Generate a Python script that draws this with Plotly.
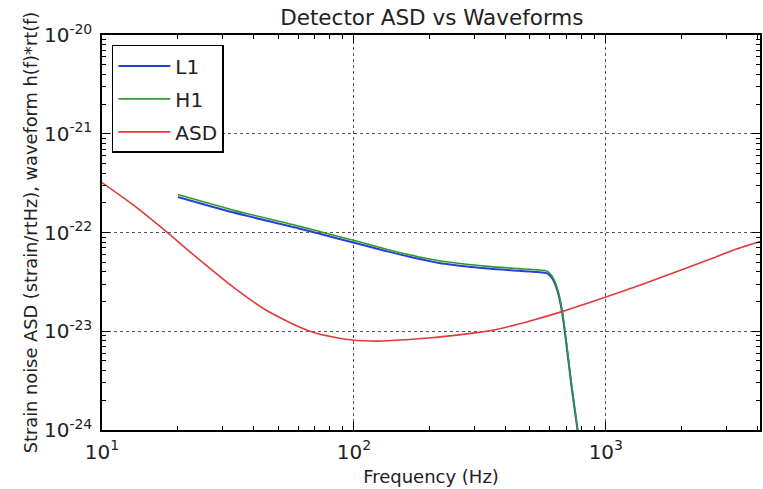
import plotly.graph_objects as go

# ---- data ----
asd_freq = [10, 13.3, 18, 24.4, 33, 44.7, 60.4, 70.3, 81.7, 98, 125, 160, 197, 266,
            372, 500, 670, 1000, 1400, 1905, 2600, 3300, 4096]
asd_vals = [3.2e-22, 1.9e-22, 1.02e-22, 5.27e-23, 2.83e-23, 1.64e-23, 1.11e-23, 9.6e-24,
            8.8e-24, 8.15e-24, 7.95e-24, 8.2e-24, 8.55e-24, 9.25e-24, 1.05e-23, 1.27e-23,
            1.58e-23, 2.22e-23, 3.0e-23, 4.0e-23, 5.4e-23, 6.8e-23, 8.1e-23]

wf_freq = [20, 33, 60.4, 86.9, 104, 137, 215, 339, 450, 535, 585, 612, 641, 670,
           702, 734, 769, 800]
l1_vals = [2.29e-22, 1.60e-22, 1.10e-22, 8.65e-23, 7.7e-23, 6.4e-23, 4.95e-23, 4.32e-23,
           4.1e-23, 3.98e-23, 3.86e-23, 3.44e-23, 2.62e-23, 1.58e-23, 6.45e-24, 2.54e-24,
           1.08e-24, 4.5e-25]
h1_vals = [2.42e-22, 1.69e-22, 1.16e-22, 9.1e-23, 8.1e-23, 6.7e-23, 5.2e-23, 4.54e-23,
           4.31e-23, 4.18e-23, 4.05e-23, 3.6e-23, 2.75e-23, 1.66e-23, 6.8e-24, 2.65e-24,
           1.12e-24, 4.7e-25]

x_tickvals = [10, 100, 1000]
x_ticktext = ["10<sup>1</sup>", "10<sup>2</sup>", "10<sup>3</sup>"]
y_tickvals = [1e-24, 1e-23, 1e-22, 1e-21, 1e-20]
y_ticktext = ["10<sup>-24</sup>", "10<sup>-23</sup>", "10<sup>-22</sup>",
              "10<sup>-21</sup>", "10<sup>-20</sup>"]

x_minor = [m * 10 ** e for e in (1, 2, 3) for m in range(2, 10) if m * 10 ** e < 4096]
y_minor = [m * 10.0 ** e for e in (-24, -23, -22, -21) for m in range(2, 10)]

FONT = "DejaVu Sans"
TXT = "#222222"
TICKFONT = dict(family=FONT, size=20, color=TXT)

fig = go.Figure()
fig.add_trace(go.Scatter(x=wf_freq, y=l1_vals, mode="lines", name="L1",
                         line=dict(color="#2b3fd6", width=2, shape="spline", smoothing=0.6),
                         legendgroup="a"))
fig.add_trace(go.Scatter(x=wf_freq, y=h1_vals, mode="lines", name="H1",
                         line=dict(color="#2e9a2e", width=1.6, shape="spline", smoothing=0.6),
                         legendgroup="b"))
fig.add_trace(go.Scatter(x=asd_freq, y=asd_vals, mode="lines", name="ASD",
                         line=dict(color="#e03a3a", width=1.6, shape="spline", smoothing=0.6),
                         legendgroup="c"))

axis_common = dict(
    type="log",
    showgrid=True, gridcolor="#555555", griddash="dot", gridwidth=1,
    ticks="inside", ticklen=8, tickcolor="black", tickwidth=1,
    showline=True, linecolor="black", linewidth=1.5, mirror="allticks",
    tickmode="array",
    zeroline=False,
)

fig.update_xaxes(
    **axis_common,
    range=[1, 3.612],
    tickvals=x_tickvals, ticktext=x_ticktext,
    tickfont=TICKFONT,
    ticklabelstandoff=3,
    minor=dict(tickmode="array", tickvals=x_minor, ticks="inside", ticklen=4,
               tickcolor="black", showgrid=False),
    title=dict(text="Frequency (Hz)", font=dict(family=FONT, size=18, color=TXT), standoff=8),
)
fig.update_yaxes(
    **axis_common,
    range=[-24, -20],
    tickvals=y_tickvals, ticktext=y_ticktext,
    tickfont=TICKFONT,
    ticklabelstandoff=4,
    minor=dict(tickmode="array", tickvals=y_minor, ticks="inside", ticklen=4,
               tickcolor="black", showgrid=False),
    title=dict(text="Strain noise ASD (strain/rtHz), waveform h(f)*rt(f)",
               font=dict(family=FONT, size=17.8, color=TXT), standoff=2),
)

fig.update_layout(
    width=763, height=489,
    margin=dict(l=102, r=1, t=35, b=59),
    paper_bgcolor="white", plot_bgcolor="white",
    title=dict(text="Detector ASD vs Waveforms", x=0.566, xanchor="center",
               y=0.965, yref="container", yanchor="middle",
               font=dict(family=FONT, size=21.5, color=TXT)),
    legend=dict(x=0.015, y=0.975, xanchor="left", yanchor="top",
                bgcolor="white", bordercolor="black", borderwidth=1.5,
                font=dict(family=FONT, size=20, color=TXT),
                tracegroupgap=4, itemwidth=52),
    showlegend=True,
)

fig.write_html("out.html")
